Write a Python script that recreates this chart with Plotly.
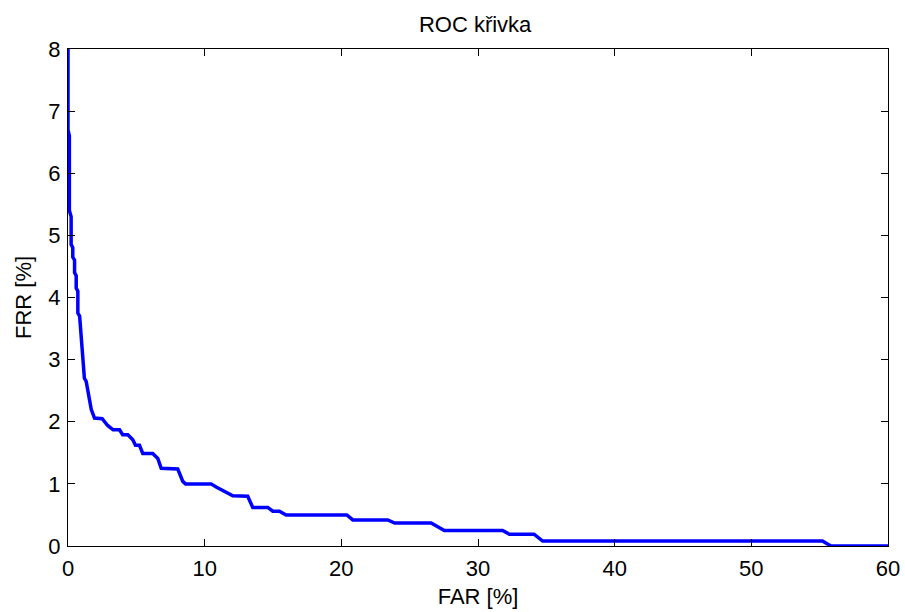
import plotly.graph_objects as go

# ROC curve
far = [0, 0, 0.1, 0.1, 0.23, 0.23, 0.35, 0.35, 0.48, 0.48, 0.6, 0.6, 0.72, 0.72,
       0.85, 0.96, 1.05, 1.2, 1.33, 1.5, 1.57, 1.7, 1.94, 2.5, 2.9, 3.3, 3.77,
       4.0, 4.38, 4.74, 4.94, 5.23, 5.47, 6.2, 6.57, 6.82, 8.03, 8.4, 8.6,
       10.47, 10.84, 11.2, 11.57, 12.06, 13.15, 13.52, 14.62, 14.98, 15.47,
       15.96, 20.4, 20.84, 23.4, 23.9, 26.57, 27.54, 31.8, 32.3, 34.1, 34.73,
       55.2, 55.83, 60]
frr = [8.0, 6.7, 6.6, 5.4, 5.3, 4.85, 4.8, 4.65, 4.6, 4.4, 4.35, 4.15, 4.1, 3.75,
       3.7, 3.35, 3.2, 2.7, 2.65, 2.45, 2.3, 2.2, 2.06, 2.05, 1.94, 1.87, 1.87,
       1.79, 1.79, 1.71, 1.62, 1.62, 1.49, 1.49, 1.41, 1.25, 1.24, 1.04, 1.0,
       1.0, 0.95, 0.91, 0.86, 0.81, 0.80, 0.62, 0.62, 0.56, 0.56,
       0.50, 0.50, 0.42, 0.42, 0.37, 0.37, 0.25, 0.25, 0.19, 0.19, 0.08,
       0.08, 0.0, 0.0]

x_ticks = [0, 10, 20, 30, 40, 50, 60]
y_ticks = [0, 1, 2, 3, 4, 5, 6, 7, 8]

title_text = "ROC křivka"
x_label = "FAR [%]"
y_label = "FRR [%]"

FONT = "Liberation Sans, Arial, sans-serif"
FS = 22

fig = go.Figure()
fig.add_trace(go.Scatter(x=far, y=frr, mode="lines",
                         line=dict(color="#0000FF", width=3.5),
                         showlegend=False, hoverinfo="skip"))

axis_common = dict(
    showline=True, linecolor="black", linewidth=1, mirror="ticks",
    ticks="inside", ticklen=7, tickwidth=1, tickcolor="black",
    showgrid=False, zeroline=False, automargin=False,
    tickfont=dict(family=FONT, size=FS, color="black"),
)

fig.update_xaxes(range=[0, 60], tickvals=x_ticks, ticklabelstandoff=3,
                 title=dict(text=x_label, font=dict(family=FONT, size=FS, color="black"),
                            standoff=8),
                 **axis_common)
fig.update_yaxes(range=[0, 8], tickvals=y_ticks, ticklabelstandoff=2,
                 title=dict(text=y_label, font=dict(family=FONT, size=FS, color="black"),
                            standoff=10),
                 **axis_common)

fig.update_layout(
    width=905, height=612,
    margin=dict(l=68, r=17, t=49, b=66, autoexpand=False),
    paper_bgcolor="white", plot_bgcolor="white",
    title=dict(text=title_text, x=0.525, xanchor="center",
               y=1 - 24 / 612, yanchor="middle", yref="container",
               font=dict(family=FONT, size=FS, color="black")),
)

fig.write_html("out.html")
